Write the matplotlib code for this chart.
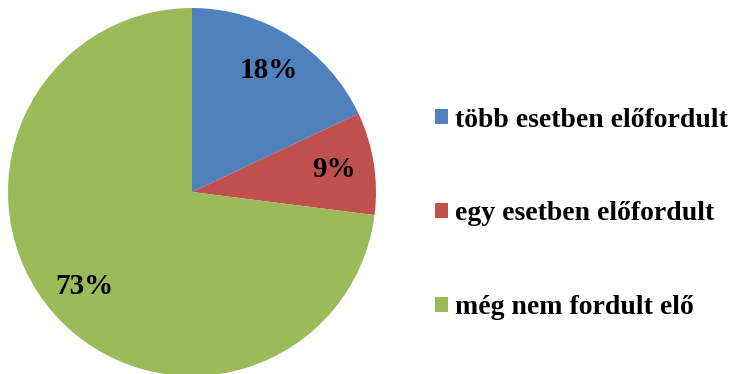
import matplotlib
matplotlib.use("Agg")
from matplotlib import pyplot as plt

# data
labels = ['több esetben előfordult', 'egy esetben előfordult', 'még nem fordult elő']
values = [18, 9, 73]
colors = ['#4F81BD', '#C0504D', '#9BBB59']

plt.rcParams['font.family'] = ['Liberation Serif', 'DejaVu Serif']

fig = plt.figure(figsize=(7.36, 3.74), dpi=100)
ax = fig.add_axes([8 / 736, 1 - 376 / 374, 368 / 736, 368 / 374])

wedges, texts, autotexts = ax.pie(values, colors=colors, startangle=90, counterclock=False,
                                  radius=1, autopct='%d%%', pctdistance=0.78,
                                  textprops=dict(fontsize=21, fontweight='bold', color='black'))
ax.set_xlim(-1, 1)
ax.set_ylim(-1, 1)
ax.set_aspect('equal')

fig.legend(wedges, labels, loc='center left', bbox_to_anchor=(435 / 736, 1 - 214 / 374),
           frameon=False, borderpad=0, borderaxespad=0,
           handlelength=0.47, handleheight=0.47, handletextpad=0.25,
           labelspacing=2.48, prop=dict(size=20, weight='bold'))

fig.savefig('out.png', dpi=100)
